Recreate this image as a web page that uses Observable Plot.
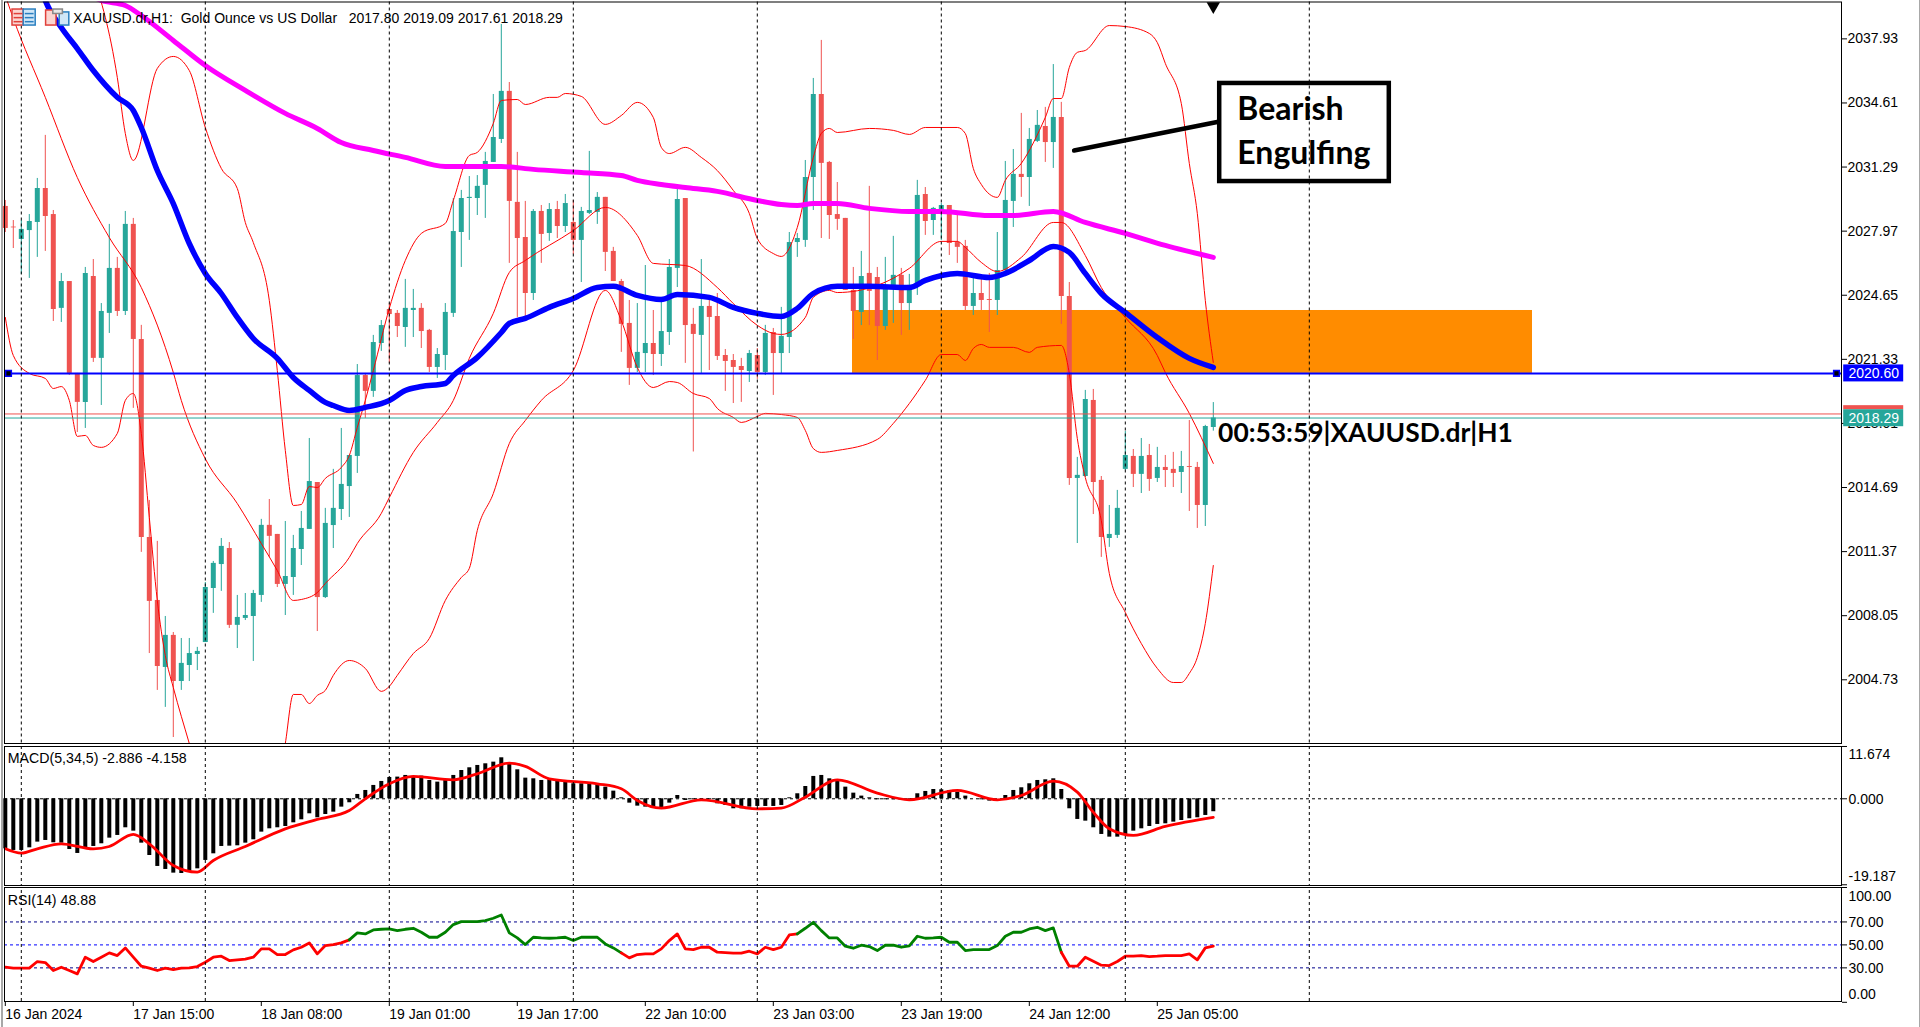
<!DOCTYPE html>
<html><head><meta charset="utf-8">
<script src="https://cdn.jsdelivr.net/npm/d3@7"></script>
<script src="https://cdn.jsdelivr.net/npm/@observablehq/plot@0.6"></script>
<style>
html,body{margin:0;padding:0;background:#fff;overflow:hidden;width:1920px;height:1027px}
#chart{position:relative;width:1920px;height:1027px}
#chart svg{position:absolute;left:0;display:block;max-width:none}
.edge{position:absolute;top:0;bottom:0;background:#a8a8a8}
</style></head><body><div id="chart"><div class="edge" style="left:1px;width:2px"></div><div class="edge" style="left:1919px;width:1px"></div></div>
<script>
const open=[2029.25,2028.18,2027.54,2028.00,2028.42,2030.18,2028.83,2023.97,2025.36,2020.60,
2019.10,2025.62,2021.38,2023.71,2026.04,2023.81,2028.32,2022.36,2012.10,2008.84,
2005.37,2007.03,2004.64,2005.47,2006.04,2006.66,2009.46,2010.70,2011.53,2007.55,
2007.91,2008.01,2009.10,2012.73,2012.26,2009.67,2010.03,2011.48,2012.52,2014.95,
2008.99,2012.72,2013.55,2014.74,2016.30,2020.49,2019.67,2022.15,2023.91,2023.71,
2022.98,2023.86,2023.97,2022.83,2020.91,2021.53,2023.71,2027.90,2029.66,2029.66,
2030.34,2031.53,2032.72,2035.21,2029.46,2027.64,2024.74,2028.99,2027.85,2029.09,
2028.21,2028.42,2027.49,2028.89,2028.94,2029.72,2026.92,2025.36,2023.19,2020.86,
2021.63,2022.15,2021.58,2022.72,2026.04,2029.66,2023.14,2022.57,2024.07,2023.55,
2021.53,2021.27,2020.96,2020.70,2021.53,2020.65,2022.72,2021.63,2022.46,2027.38,
2027.49,2030.75,2035.05,2031.53,2028.83,2028.63,2024.90,2023.76,2025.78,2025.57,
2023.03,2025.05,2025.68,2024.22,2025.26,2029.87,2028.52,2029.04,2029.30,2027.38,
2027.18,2024.07,2024.74,2024.43,2024.38,2025.93,2029.51,2030.91,2030.75,2032.62,
2033.39,2032.56,2033.86,2024.59,2015.16,2015.26,2019.20,2015.06,2012.05,2012.21,
2015.63,2016.30,2015.37,2016.35,2015.16,2015.73,2015.63,2015.47,2015.78,2015.73,
2013.76,2017.80];
const high=[2029.56,2028.52,2028.52,2028.83,2030.70,2032.93,2029.04,2025.78,2025.36,2020.60,
2026.09,2026.50,2024.22,2028.32,2026.61,2028.99,2028.63,2023.09,2014.02,2011.90,
2008.01,2007.18,2006.87,2006.87,2006.41,2009.77,2010.86,2012.05,2011.84,2009.10,
2009.20,2009.36,2013.04,2014.07,2012.26,2012.93,2012.21,2013.45,2017.23,2014.95,
2013.61,2015.63,2017.75,2016.35,2021.06,2020.60,2022.57,2023.34,2024.22,2023.86,
2025.47,2024.95,2024.22,2022.88,2021.89,2024.22,2029.66,2030.08,2030.80,2030.85,
2032.05,2035.05,2038.68,2035.67,2032.05,2029.51,2029.09,2029.30,2029.40,2029.51,
2029.87,2029.56,2029.20,2032.10,2029.97,2029.72,2027.13,2025.47,2024.38,2024.22,
2026.19,2023.86,2024.54,2026.50,2030.13,2029.66,2023.97,2026.50,2024.54,2024.74,
2021.84,2021.58,2021.38,2021.79,2021.89,2023.09,2022.93,2024.02,2027.90,2027.85,
2031.63,2035.88,2037.85,2031.58,2030.49,2028.63,2026.09,2026.92,2030.29,2026.09,
2026.61,2027.70,2026.04,2025.73,2030.60,2030.23,2029.20,2029.40,2029.30,2028.89,
2027.49,2025.52,2025.52,2025.78,2027.90,2031.58,2032.20,2034.07,2033.29,2034.22,
2034.38,2036.60,2034.64,2025.31,2016.25,2019.72,2019.77,2015.26,2013.76,2014.54,
2017.59,2016.66,2017.23,2016.92,2016.77,2016.35,2016.51,2016.56,2018.16,2015.99,
2017.91,2019.09];
const low=[2027.90,2027.07,2025.73,2025.52,2026.61,2026.92,2023.29,2023.24,2020.50,2017.54,
2017.75,2021.17,2018.94,2022.67,2023.55,2023.60,2018.79,2011.33,2006.09,2004.18,
2003.30,2001.74,2004.18,2004.64,2005.21,2006.66,2008.17,2009.31,2007.39,2006.35,
2007.80,2005.68,2008.74,2011.07,2009.51,2008.06,2009.10,2010.65,2012.52,2007.23,
2008.94,2011.53,2012.98,2013.14,2015.42,2018.27,2019.36,2021.74,2021.12,2022.46,
2021.95,2022.46,2021.89,2020.65,2020.34,2020.75,2023.50,2026.09,2027.49,2028.78,
2028.63,2031.53,2032.51,2026.30,2023.50,2023.50,2024.38,2026.30,2027.44,2027.59,
2027.90,2026.76,2025.31,2028.83,2028.32,2025.88,2025.36,2021.69,2019.98,2020.65,
2020.65,2020.49,2020.96,2022.05,2025.05,2021.12,2016.53,2020.60,2020.75,2021.27,
2019.67,2019.04,2019.10,2020.13,2020.29,2020.49,2019.46,2020.60,2021.63,2026.61,
2027.13,2029.04,2027.59,2027.54,2028.01,2024.90,2022.36,2023.08,2023.08,2021.27,
2022.83,2023.19,2022.57,2022.83,2024.64,2027.75,2027.75,2027.49,2026.71,2026.30,
2023.86,2023.60,2023.86,2022.72,2023.60,2025.83,2028.16,2029.72,2029.25,2032.56,
2031.53,2031.22,2023.14,2014.80,2011.79,2015.21,2013.29,2011.07,2011.59,2012.05,
2015.57,2014.69,2014.38,2014.49,2014.95,2014.69,2014.69,2014.38,2013.45,2012.57,
2012.67,2017.61];
const close=[2028.11,2028.14,2028.06,2028.47,2030.18,2028.73,2023.91,2025.36,2020.60,2019.10,
2025.78,2021.38,2023.81,2026.04,2023.81,2028.32,2022.36,2012.10,2008.79,2005.42,
2007.03,2004.64,2005.58,2006.09,2006.20,2009.51,2010.76,2011.64,2007.55,2007.96,
2008.06,2009.20,2012.73,2012.16,2009.67,2010.08,2011.53,2012.57,2015.00,2008.99,
2012.83,2013.61,2014.85,2016.35,2020.49,2019.67,2022.20,2023.08,2023.65,2023.03,
2023.97,2023.97,2022.77,2020.91,2021.58,2023.76,2027.95,2029.66,2029.72,2030.29,
2031.58,2032.82,2035.21,2029.51,2027.59,2024.74,2028.99,2027.80,2029.09,2028.21,
2029.40,2027.49,2028.99,2029.04,2029.72,2026.87,2025.36,2023.14,2020.86,2021.69,
2022.15,2021.58,2022.77,2026.09,2029.61,2023.08,2022.62,2024.07,2023.50,2021.48,
2021.22,2020.91,2020.75,2021.63,2020.65,2022.67,2021.63,2022.52,2027.38,2027.59,
2030.75,2035.05,2031.48,2028.78,2028.58,2024.90,2023.81,2025.62,2024.85,2023.03,
2025.05,2025.68,2024.22,2025.16,2029.82,2028.47,2029.15,2029.30,2027.33,2027.13,
2024.07,2024.74,2024.38,2024.38,2025.93,2029.56,2030.91,2030.75,2032.72,2033.45,
2032.56,2033.86,2024.59,2015.16,2015.32,2019.25,2014.95,2012.10,2012.26,2013.61,
2016.35,2015.37,2016.30,2015.11,2015.73,2015.57,2015.42,2015.78,2015.73,2013.76,
2017.85,2018.29];

const maFastBars=[4,5,7,9,11,14,16,17,19,21,23,25,27,29,31,34,36,38,40,41,43,45,48,50,52,55,56,59,62,63,65,68,71,74,76,79,82,84,88,91,94,97,99,101,104,108,113,115,119,123,125,128,131,133,135,137,140,144,148,151];
const maFast=[2041.2,2039.92,2038.52,2037.43,2036.29,2034.90,2034.22,2033.34,2031.11,2029.40,2027.33,2025.78,2024.74,2023.50,2022.41,2021.38,2020.39,2019.72,2019.10,2018.94,2018.68,2018.84,2019.20,2019.72,2019.92,2020.08,2020.49,2021.43,2022.72,2023.19,2023.45,2024.02,2024.48,2025.05,2025.11,2024.64,2024.43,2024.69,2024.54,2024.02,2023.71,2023.55,2023.97,2024.74,2025.11,2025.11,2025.05,2025.42,2025.78,2025.57,2025.78,2026.45,2027.18,2026.87,2025.78,2024.74,2023.76,2022.46,2021.38,2020.91];
const maSlowBars=[9,12,15,17,21,25,30,35,39,42,46,50,55,62,66,72,77,79,82,85,89,94,97,99,101,104,108,113,117,123,126,131,135,140,145,151];
const maSlow=[2040.54,2039.92,2039.66,2039.14,2037.85,2036.55,2035.26,2034.07,2033.29,2032.56,2032.15,2031.79,2031.32,2031.32,2031.17,2031.01,2030.85,2030.60,2030.39,2030.23,2030.03,2029.56,2029.35,2029.30,2029.40,2029.40,2029.15,2028.99,2028.99,2028.78,2028.78,2028.99,2028.42,2027.85,2027.23,2026.61];

const upperBars=[11,14,15,16,19,21,23,25,27,29,30,31,33,34,35,36,37,38,39,40,42,43,44,45,46,48,50,52,55,56,58,59,61,62,64,65,68,69,70,72,75,77,79,81,82,83,85,87,89,91,93,94,96,97,99,101,102,103,104,108,111,113,115,119,120,121,122,124,125,127,130,131,132,133,134,135,138,140,143,144,145,147,148,149,150,151];
const upper=[2041.2,2035.93,2033.03,2031.63,2036.40,2037.02,2036.29,2033.34,2031.22,2030.18,2028.42,2027.38,2024.38,2020.75,2016.61,2013.76,2013.81,2014.74,2014.69,2015.16,2015.73,2016.35,2017.80,2019.20,2020.75,2023.97,2026.45,2027.85,2028.37,2029.56,2031.89,2032.05,2033.55,2034.74,2034.79,2034.53,2034.90,2034.90,2035.10,2034.95,2033.50,2033.96,2034.64,2033.86,2032.31,2031.99,2032.31,2031.79,2031.11,2030.08,2028.89,2027.59,2026.81,2026.66,2028.16,2031.79,2033.03,2033.29,2033.08,2033.29,2033.19,2032.98,2033.34,2033.34,2033.03,2031.22,2030.39,2029.72,2030.60,2031.48,2033.86,2034.84,2034.84,2036.45,2037.23,2037.33,2038.62,2038.57,2038.21,2037.74,2036.66,2034.58,2031.48,2028.89,2024.38,2021.17];
const middleBars=[0,1,5,9,13,17,21,22,25,29,32,34,36,37,39,40,43,44,47,48,51,54,56,58,61,63,65,71,75,79,81,85,89,91,94,96,97,100,101,103,104,109,113,117,119,120,122,124,127,131,132,135,137,140,144,145,148,151];
const middle=[2040.18,2038.99,2034.90,2030.75,2027.64,2025.05,2020.65,2019.20,2016.18,2013.86,2011.79,2010.39,2008.84,2008.89,2009.25,2009.72,2011.07,2011.79,2013.35,2014.17,2016.51,2018.06,2019.20,2021.38,2023.71,2025.83,2026.45,2028.00,2029.20,2027.75,2026.30,2026.19,2025.05,2024.22,2023.09,2022.67,2022.62,2023.50,2024.54,2024.90,2024.79,2025.16,2026.04,2027.44,2027.44,2027.13,2026.35,2025.88,2026.61,2028.42,2028.42,2026.71,2025.05,2023.50,2021.53,2020.65,2018.53,2015.94];
const lowerBars=[0,1,3,5,6,7,8,9,10,11,12,14,15,16,17,18,19,20,21,23,27,31,34,35,36,37,38,39,40,41,43,45,47,48,49,51,53,55,57,58,59,61,63,65,67,71,75,77,79,81,83,84,86,88,89,91,92,94,95,97,99,100,101,102,104,109,111,113,115,117,119,120,121,122,123,126,128,129,132,133,134,135,137,138,140,142,144,146,147,148,149,150,151];
const lower=[2023.50,2021.53,2020.60,2020.34,2019.82,2019.92,2019.20,2017.34,2017.39,2016.87,2016.77,2017.49,2019.20,2019.56,2017.49,2013.14,2008.84,2005.99,2004.33,2001.43,1995.89,1995.89,1999.00,2001.43,2003.97,2003.97,2003.50,2003.92,2004.18,2004.96,2005.73,2005.32,2004.13,2004.39,2004.96,2006.09,2006.87,2008.84,2010.03,2010.50,2012.47,2014.38,2016.97,2018.16,2019.20,2020.75,2024.90,2023.34,2020.91,2019.87,2020.18,2020.13,2019.56,2019.30,2018.79,2018.32,2018.06,2018.37,2018.53,2018.47,2018.32,2017.65,2016.71,2016.51,2016.61,2017.18,2018.01,2019.04,2020.24,2021.58,2021.58,2021.27,2021.89,2022.10,2021.95,2021.95,2021.69,2021.95,2022.05,2020.60,2017.23,2015.21,2012.98,2010.24,2008.22,2006.61,2005.32,2004.59,2004.59,2005.06,2005.89,2007.65,2010.65];

const macdHist=[-11.16,-11.53,-11.53,-10.94,-9.67,-9.30,-9.82,-9.90,-11.31,-12.20,
-11.16,-10.64,-10.04,-8.78,-8.18,-6.47,-7.22,-9.90,-12.65,-15.10,
-15.77,-16.59,-16.67,-16.37,-15.63,-13.76,-12.28,-10.64,-10.57,-10.49,
-9.90,-9.15,-7.44,-6.70,-6.47,-6.18,-5.36,-4.69,-3.35,-4.24,
-3.50,-2.98,-1.86,-0.89,0.97,1.86,2.98,3.87,4.76,4.84,
5.21,4.99,5.06,4.09,3.72,4.24,5.21,6.32,6.92,7.44,
7.81,8.18,9.15,7.81,6.47,4.61,4.46,4.09,4.24,4.24,
4.09,3.35,3.35,3.35,3.35,2.60,1.71,0.22,-0.97,-1.64,
-1.86,-1.86,-2.23,-0.97,0.74,-0.37,-0.22,-0.15,-0.22,-1.12,
-1.49,-2.23,-2.23,-1.86,-1.71,-1.71,-1.71,-1.49,0.22,1.12,
2.75,4.99,5.21,4.46,4.24,2.60,1.26,0.60,0.22,-0.22,
-0.22,-0.22,-0.22,-0.15,1.12,1.64,2.08,2.01,1.86,1.49,
0.60,0,-0.22,-0.52,0,0.74,1.86,2.46,3.35,4.09,
4.24,4.46,2.08,-2.23,-4.61,-4.99,-6.47,-7.96,-8.56,-8.56,
-8.18,-7.22,-6.70,-6.18,-5.73,-5.58,-5.21,-4.84,-4.46,-4.24,
-3.72,-2.886];
const signalBars=[0,2,4,7,11,13,16,18,21,24,26,30,35,39,43,45,48,51,56,59,63,65,68,74,77,79,82,87,94,97,100,104,109,113,119,124,127,131,134,136,138,141,145,151];
const signal=[-11.16,-12.13,-11.16,-10.04,-11.16,-10.64,-7.96,-10.04,-14.88,-16.37,-13.76,-10.64,-6.70,-4.61,-2.60,0,3.35,4.99,4.24,5.58,7.96,7.22,4.46,3.35,2.23,-0.37,-2.08,-0.22,-2.23,-2.08,0.37,4.24,1.26,-0.22,1.86,-0.22,0.74,3.94,1.49,-2.98,-6.70,-8.18,-6.18,-4.158];

const rsi=[30.58,29.71,29.70,29.71,35.51,34.64,27.68,30.58,27.68,24.78,
39.28,35.51,39.28,43.04,40.72,47.39,39.28,31.45,29.71,27.68,
29.71,28.55,29.71,30.00,31.16,34.93,39.28,40.14,36.38,36.96,
37.54,39.28,46.52,46.52,41.59,41.59,45.65,47.97,51.74,42.17,
49.42,50.29,51.74,54.35,60.43,59.57,63.04,63.62,63.91,62.46,
63.62,64.49,61.01,56.67,56.67,61.01,67.68,70.29,70.29,70.29,
71.16,73.19,76.09,60.43,56.09,50.29,56.67,56.09,55.80,56.09,
56.67,53.77,56.67,56.67,56.67,50.87,47.39,43.04,38.70,41.59,
42.17,42.17,46.52,53.77,59.57,46.52,45.94,47.97,47.97,43.62,
43.33,42.75,42.75,44.49,42.17,47.97,45.94,47.97,58.70,59.57,
64.49,69.71,62.46,56.09,56.09,48.84,47.10,49.71,48.55,45.07,
49.71,49.71,47.97,49.13,57.54,55.80,56.09,56.67,52.32,52.32,
45.07,45.94,45.94,45.94,49.42,57.54,61.01,61.01,63.91,65.36,
62.46,64.78,43.62,31.45,31.45,39.28,35.80,32.32,32.03,35.51,
40.14,40.14,40.72,39.86,40.14,40.72,40.72,40.72,42.17,36.96,
47.39,48.88];
const rsiBreaks=[0,43,77,99,132,151];
const rsiColors=["#ff0000","#008000","#ff0000","#008000","#ff0000"];

const priceTicks=[2037.93,2034.61,2031.29,2027.97,2024.65,2021.33,2018.01,2014.69,2011.37,2008.05,2004.73];
const macdTicks=[11.674,0,-19.187];
const rsiTicks=[100,70,50,30,0];
const gridBars=[2,25,48,71,94,117,140,163];
const timeBars=[0,16,32,48,64,80,96,112,128,144];
const timeLabels=["16 Jan 2024","17 Jan 15:00","18 Jan 08:00","19 Jan 01:00","19 Jan 17:00","22 Jan 10:00","23 Jan 03:00","23 Jan 19:00","24 Jan 12:00","25 Jan 05:00"];
const linePrice=2020.60, bidPrice=2018.29, askPrice=2018.50;
const zone={bar1:105.9,bar2:190.9,top:2023.86,bottom:2020.60};
const legendMain="XAUUSD.dr,H1:  Gold Ounce vs US Dollar   2017.80 2019.09 2017.61 2018.29";

const UI="'Liberation Sans',sans-serif";
const xDomain=[-0.1,229.525];
const base={width:1920,marginLeft:4,marginRight:79,style:{background:"transparent",fontFamily:UI,fontSize:"14px",color:"#000"}};
const xOpt={domain:xDomain,axis:null};
const pair=(bars,vals)=>bars.map((b,k)=>({b,v:vals[k]}));
const dash={stroke:"#000",strokeWidth:1,strokeDasharray:"3,3"};
const candles=open.map((o,i)=>({i,o,h:high[i],l:low[i],c:close[i],col:close[i]>=o?"#26a69a":"#ef5350"}));
const bandLine=(bars,vals)=>Plot.line(pair(bars,vals),{x:"b",y:"v",stroke:"#ff0000",strokeWidth:1,curve:"monotone-x",clip:"frame"});
const iconBoxes=[
 {a:0.9,b:2.3,t:2039.45,u:2038.62,f:"#fbd5d0",s:"#e0403a"},{a:2.3,b:3.8,t:2039.45,u:2038.62,f:"#cfe6f7",s:"#2a7fc0"},
 {a:5.1,b:6.4,t:2039.4,u:2038.62,f:"#fbd5d0",s:"#e0403a"},{a:6.8,b:8.0,t:2039.3,u:2038.62,f:"#cfe6f7",s:"#2a7fc0"},
 {a:6.0,b:7.2,t:2039.45,u:2039.22,f:"#e8e8e8",s:"#888888"}];
const iconLines=[
 {a:1.1,b:2.2,y:2039.24,s:"#e0403a"},{a:1.1,b:2.2,y:2039.03,s:"#e0403a"},{a:1.1,b:2.2,y:2038.82,s:"#e0403a"},
 {a:2.5,b:3.6,y:2039.24,s:"#2a7fc0"},{a:2.5,b:3.6,y:2039.03,s:"#2a7fc0"},{a:2.5,b:3.6,y:2038.82,s:"#2a7fc0"}];

const mainPlot=Plot.plot({...base,height:745,marginTop:1.5,marginBottom:2,
 x:xOpt,y:{domain:[2001.43,2039.84]},
 marks:[
  Plot.rect([zone],{x1:"bar1",x2:"bar2",y1:"bottom",y2:"top",fill:"#ff8c00"}),
  Plot.ruleX(candles,{x:"i",y1:"l",y2:"h",stroke:"col",strokeWidth:1}),
  Plot.ruleX(candles,{x:"i",y1:"o",y2:"c",stroke:"col",strokeWidth:5}),
  bandLine(upperBars,upper),bandLine(middleBars,middle),bandLine(lowerBars,lower),
  Plot.line(pair(maSlowBars,maSlow),{x:"b",y:"v",stroke:"#ff00ff",strokeWidth:5,curve:"monotone-x",clip:"frame"}),
  Plot.line(pair(maFastBars,maFast),{x:"b",y:"v",stroke:"#0000ff",strokeWidth:5.5,curve:"monotone-x",clip:"frame"}),
  Plot.ruleY([askPrice],{stroke:"#ef5350",strokeWidth:1}),
  Plot.ruleY([bidPrice],{stroke:"#26a69a",strokeWidth:1}),
  Plot.ruleY([linePrice],{stroke:"#0000ff",strokeWidth:2}),
  Plot.dot([0.4,228.9],{x:d=>d,y:()=>linePrice,symbol:"square",r:3.2,fill:"#000",stroke:"#0000ff",strokeWidth:1.5}),
  Plot.link([{x1:133.6,y1:2032.15,x2:151.8,y2:2033.65}],{x1:"x1",y1:"y1",x2:"x2",y2:"y2",stroke:"#000",strokeWidth:4.5,strokeLinecap:"round"}),
  Plot.rect([{a:151.8,b:173,t:2035.62,u:2030.54}],{x1:"a",x2:"b",y1:"u",y2:"t",fill:"#fff",stroke:"#000",strokeWidth:4.5}),
  Plot.ruleX(gridBars,dash),
  Plot.frame({stroke:"#000"}),
  Plot.axisY(priceTicks,{anchor:"right",tickSize:5,tickPadding:1,tickFormat:d=>d.toFixed(2),label:null,fontSize:14,fontFamily:UI}),
  Plot.rect([{a:229.8,b:237.3,t:2021.04,u:2020.16,f:"#0000ff"},{a:229.8,b:237.3,t:2018.93,u:2018.72,f:"#ef5350"},{a:229.8,b:237.3,t:2018.72,u:2017.84,f:"#26a69a"}],{x1:"a",x2:"b",y1:"u",y2:"t",fill:"f"}),
  Plot.text([linePrice,bidPrice],{x:233.55,y:d=>d,text:d=>d.toFixed(2),fill:"#fff",fontSize:14,fontFamily:UI}),
  Plot.rect(iconBoxes,{x1:"a",x2:"b",y1:"u",y2:"t",fill:"f",stroke:"s",strokeWidth:1.5}),
  Plot.ruleY(iconLines,{x1:"a",x2:"b",y:"y",stroke:"s",strokeWidth:1.5}),
  Plot.dot([151],{x:d=>d,y:()=>2039.62,symbol:"triangle",r:5,rotate:180,fill:"#000"}),
  Plot.text([legendMain],{x:8.5,y:2038.99,text:d=>d,textAnchor:"start",fontSize:14,fontFamily:UI,fill:"#000"}),
  Plot.text(["Bearish"],{x:154,y:2034.27,text:d=>d,textAnchor:"start",fontSize:32,fontWeight:"bold",fontFamily:"Lato,sans-serif",fill:"#000"}),
  Plot.text(["Engulfing"],{x:154,y:2031.99,text:d=>d,textAnchor:"start",fontSize:32,fontWeight:"bold",fontFamily:"Lato,sans-serif",fill:"#000"}),
  Plot.text(["00:53:59|XAUUSD.dr|H1"],{x:151.6,y:2017.49,text:d=>d,textAnchor:"start",fontSize:26.4,fontWeight:"bold",fontFamily:"Lato,sans-serif",fill:"#000"})
 ]});
mainPlot.style.top="0px";

const sideLabels=(vals,fmt,dy)=>Plot.text(vals,{x:230.4,y:d=>d,text:fmt,textAnchor:"start",dy,fontSize:14,fontFamily:UI,fill:"#000"});
const macdPlot=Plot.plot({...base,height:142,marginTop:1,marginBottom:2,
 x:xOpt,y:{domain:[-19.35,11.67]},
 marks:[
  Plot.ruleY([0],dash),
  Plot.ruleX(macdHist.map((v,i)=>({i,v})),{x:"i",y1:0,y2:"v",stroke:"#000",strokeWidth:4}),
  Plot.line(pair(signalBars,signal),{x:"b",y:"v",stroke:"#ff0000",strokeWidth:2.8,curve:"monotone-x"}),
  Plot.ruleX(gridBars,dash),
  Plot.frame({stroke:"#000"}),
  Plot.axisY(macdTicks,{anchor:"right",tickSize:5,tickFormat:()=>"",label:null}),
  sideLabels([macdTicks[0]],d=>d.toFixed(3),8),
  sideLabels([macdTicks[1]],d=>d.toFixed(3),1),
  sideLabels([macdTicks[2]],d=>d.toFixed(3),-8),
  Plot.text(["MACD(5,34,5) -2.886 -4.158"],{x:0.3,y:9,text:d=>d,textAnchor:"start",fontSize:14.2,fontFamily:UI,fill:"#000"})
 ]});
macdPlot.style.top="745px";

const rsiRows=rsi.map((v,i)=>({i,v}));
const rsiPlot=Plot.plot({...base,height:140,marginTop:0,marginBottom:26,
 x:{domain:xDomain},y:{domain:[0,100],range:[114.8,0]},
 marks:[
  Plot.ruleY([70,30],{stroke:"#00008b",strokeWidth:1,strokeDasharray:"3,3"}),
  Plot.ruleY([50],{stroke:"#0000ff",strokeWidth:1,strokeDasharray:"3,3"}),
  ...rsiColors.map((col,k)=>Plot.line(rsiRows.slice(rsiBreaks[k],rsiBreaks[k+1]+1),{x:"i",y:"v",stroke:col,strokeWidth:2.8})),
  Plot.ruleX(gridBars,{...dash,y1:0.7,y2:100}),
  Plot.frame({stroke:"#000"}),
  Plot.axisY(rsiTicks,{anchor:"right",tickSize:5,tickFormat:()=>"",label:null}),
  sideLabels([100],d=>d.toFixed(2),9),
  sideLabels([70,50,30],d=>d.toFixed(2),1),
  sideLabels([0],d=>d.toFixed(2),-8),
  Plot.axisX(timeBars,{anchor:"bottom",tickSize:5,tickPadding:3,textAnchor:"start",dx:0,tickFormat:d=>timeLabels[timeBars.indexOf(d)],label:null,fontSize:14,fontFamily:UI}),
  Plot.text(["RSI(14) 48.88"],{x:0.3,y:88.55,text:d=>d,textAnchor:"start",fontSize:14.2,fontFamily:UI,fill:"#000"})
 ]});
rsiPlot.style.top="887px";

document.getElementById("chart").append(mainPlot,macdPlot,rsiPlot);
</script></body></html>
